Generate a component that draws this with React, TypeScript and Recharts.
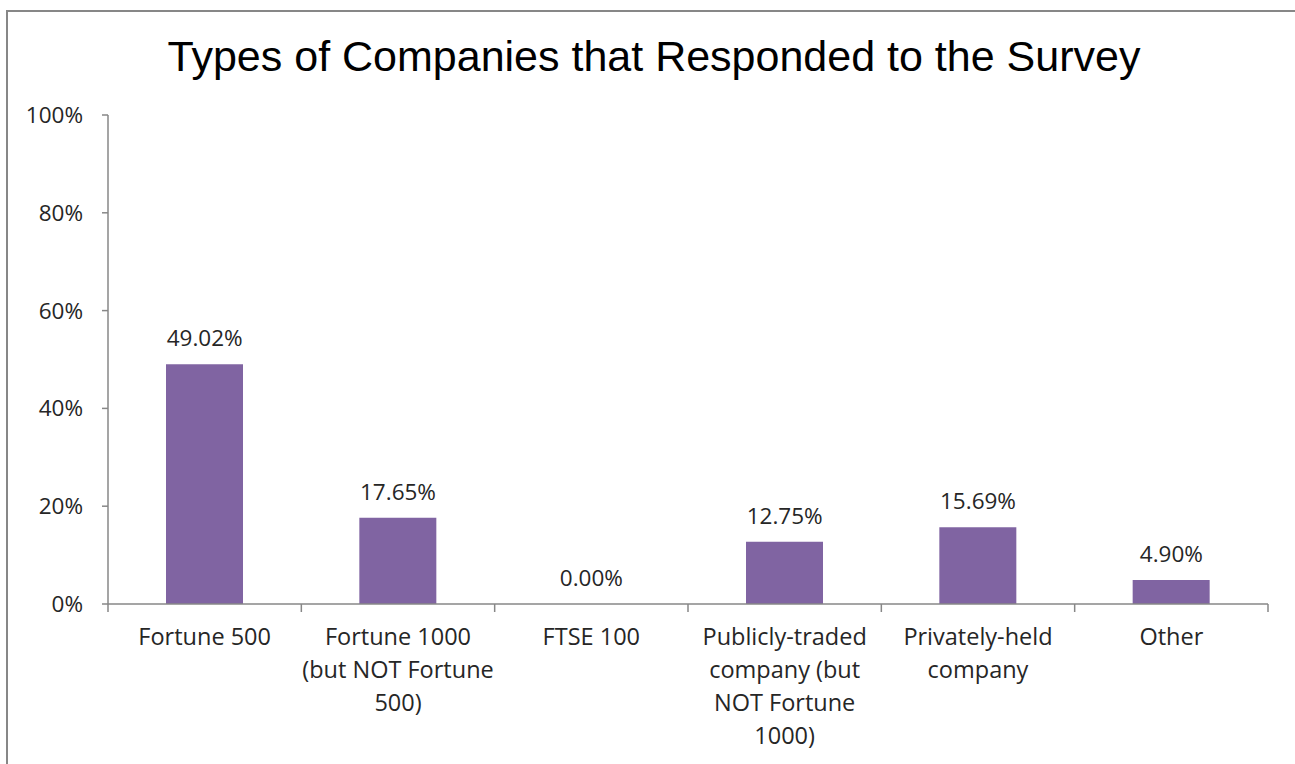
import React from 'react';
import { ComposedChart, Bar, Line, XAxis, YAxis, LabelList } from 'recharts';

const categories = [
  'Fortune 500',
  'Fortune 1000\n(but NOT Fortune\n500)',
  'FTSE 100',
  'Publicly-traded\ncompany (but\nNOT Fortune\n1000)',
  'Privately-held\ncompany',
  'Other',
];
const shares = [0.4902, 0.1765, 0.0, 0.1275, 0.1569, 0.049];
const yTicks = [0, 0.2, 0.4, 0.6, 0.8, 1];
const title = 'Types of Companies that Responded to the Survey';

const data = categories.map((c, i) => ({ name: c, value: shares[i] }));

const W = 1295;
const H = 764;
const M = { top: 115, right: 27, bottom: 10, left: 8 };
const Y_W = 100;
const X_H = 150;
const PLOT_W = W - M.left - Y_W - M.right;
const BAND = PLOT_W / categories.length;

const AXIS = '#878787';
const TXT = '#262626';
const FONT = '"Open Sans", "DejaVu Sans", sans-serif';
const BAR = '#8064A2';

const XTick = (props: any) => {
  const { x, y, payload, index } = props;
  const lines = String(payload.value).split('\n');
  const half = BAND / 2;
  return (
    <g>
      <line x1={x - half} x2={x - half} y1={y} y2={y + 8} stroke={AXIS} strokeWidth={1.5} />
      {index === categories.length - 1 && (
        <line x1={x + half} x2={x + half} y1={y} y2={y + 8} stroke={AXIS} strokeWidth={1.5} />
      )}
      <text x={x} y={y + 41} textAnchor="middle" fontFamily={FONT} fontSize={23.5} fill={TXT}>
        {lines.map((l, i) => (
          <tspan key={i} x={x} dy={i === 0 ? 0 : 33}>
            {l}
          </tspan>
        ))}
      </text>
    </g>
  );
};

export default function App() {
  return (
    <div
      style={{
        position: 'absolute',
        left: 0,
        top: 0,
        width: W,
        height: H,
        overflow: 'hidden',
        background: '#fff',
      }}
    >
      <div
        style={{
          position: 'absolute',
          left: 6,
          top: 10,
          width: W + 20,
          height: H + 20,
          borderTop: `2px solid ${AXIS}`,
          borderLeft: `2px solid ${AXIS}`,
        }}
      />
      <svg style={{ position: 'absolute', left: 0, top: 0 }} width={W} height={100}>
        <text
          x={654}
          y={71}
          textAnchor="middle"
          fontFamily='"Liberation Sans", Arial, sans-serif'
          fontSize={43}
          fill="#000"
        >
          {title}
        </text>
      </svg>
      <div style={{ position: 'absolute', left: 0, top: 0 }}>
        <ComposedChart width={W} height={H} data={data} margin={M} barSize={77}>
          <XAxis
            dataKey="name"
            interval={0}
            height={X_H}
            axisLine={{ stroke: AXIS, strokeWidth: 1.5 }}
            tickLine={false}
            tickSize={0}
            tickMargin={0}
            tick={<XTick />}
          />
          <YAxis
            width={Y_W}
            domain={[0, 1]}
            ticks={yTicks}
            interval={0}
            tickFormatter={(v: number) => `${Math.round(v * 100)}%`}
            axisLine={{ stroke: AXIS, strokeWidth: 1.5 }}
            tickLine={{ stroke: AXIS, strokeWidth: 1.5 }}
            tickSize={6}
            tickMargin={19}
            tick={{ fontFamily: FONT, fontSize: 22.5, fill: TXT }}
          />
          <Bar dataKey="value" fill={BAR} isAnimationActive={false} />
          <Line
            dataKey="value"
            stroke="none"
            dot={false}
            activeDot={false}
            isAnimationActive={false}
            legendType="none"
          >
            <LabelList
              dataKey="value"
              position="top"
              offset={18}
              formatter={(v: any) => `${(Number(v) * 100).toFixed(2)}%`}
              style={{ fontFamily: FONT, fontSize: 22.5, fill: TXT }}
            />
          </Line>
        </ComposedChart>
      </div>
    </div>
  );
}
